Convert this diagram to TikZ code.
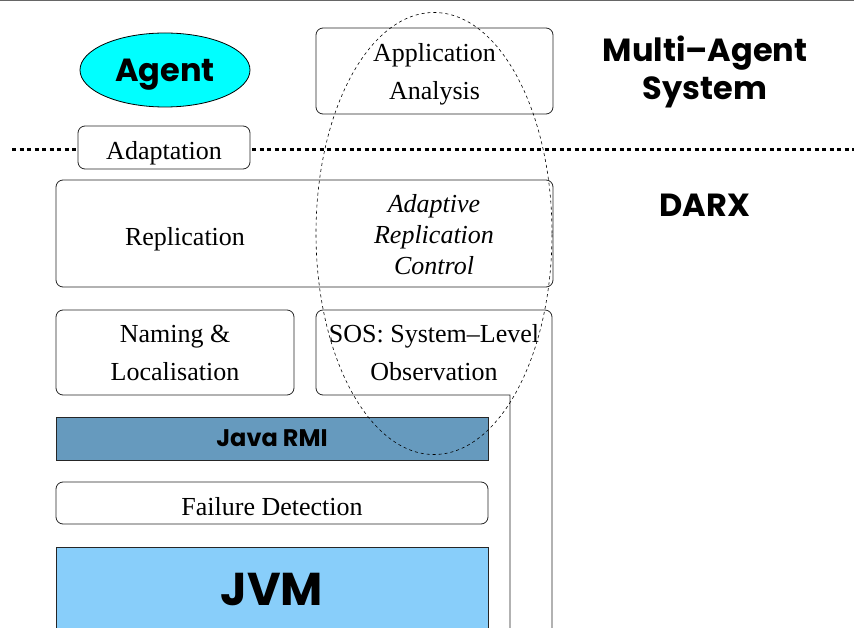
\documentclass[tikz,border=0pt]{standalone}
\usepackage{fontspec}
\setmainfont{Liberation Serif}
\newfontfamily\gfont{Poppins}[Ligatures=TeX]
\usetikzlibrary{shapes.geometric}
\definecolor{rmiblue}{RGB}{102,154,190}
\definecolor{jvmblue}{RGB}{136,206,250}
\definecolor{agentcyan}{RGB}{0,255,255}
\tikzset{
  box/.style={draw=black!85, line width=0.8pt, rounded corners=7pt, fill=white, inner sep=0pt, align=center},
  flatbox/.style={draw=black!85, line width=0.8pt, inner sep=0pt, align=center},
  serif/.style={font=\fontsize{26}{38}\selectfont},
  heavy/.style 2 args={font=\gfont\bfseries\fontsize{#1}{#2}\selectfont},
}
\begin{document}
\begin{tikzpicture}[x=1pt,y=-1pt]
\useasboundingbox (0,0) rectangle (854,628);
\clip (0,0) rectangle (854,628);
\fill[white] (0,0) rectangle (854,628);
\draw[black!60, line width=1.5pt] (0,0.75) -- (854,0.75);
% dotted separator
\coordinate (sepL) at (12,150);
\coordinate (sepR) at (854,150);
\draw[line width=3pt, dash pattern=on 4pt off 3.5pt] (sepL) -- (sepR);
% agent
\node[ellipse, draw=black, line width=0.8pt, fill=agentcyan, minimum width=170pt, minimum height=74pt, inner sep=0pt, text depth=0pt, heavy={32}{36}] (agent) at (165,70) {Agent};
% application analysis
\node[box, minimum width=237pt, minimum height=86pt] (app) at (434.5,71) {};
\node[serif, align=center, inner sep=0pt] (apptxt) at (434.5,74.5) {Application\\Analysis};
\node[align=center, heavy={32}{38}, inner sep=0pt] (mas) at (705,72) {Multi–Agent\\System};
% adaptation
\node[box, minimum width=172pt, minimum height=43pt] (adapt) at (164,147.5) {};
\node[serif, inner sep=0pt, text depth=0pt] (adapttxt) at (164,150) {Adaptation};
% replication
\node[box, minimum width=497pt, minimum height=107pt] (repl) at (304.5,233.5) {};
\node[serif, text depth=0pt] (repltxt) at (185,236) {Replication};
\node[align=center, inner sep=0pt, font=\itshape\fontsize{26}{31}\selectfont] (arc) at (434,235) {Adaptive\\Replication\\Control};
\node[heavy={32}{36}, inner sep=0pt, text depth=0pt] (darx) at (705,205) {DARX};
% naming
\node[box, minimum width=238pt, minimum height=85pt] (naming) at (175,352.5) {};
\node[serif, align=center, inner sep=0pt] (namingtxt) at (175,352.5) {Naming \&\\Localisation};
% SOS L-shape
\coordinate (sosA) at (510,630);
\coordinate (sosB) at (510,395);
\coordinate (sosC) at (316,395);
\coordinate (sosD) at (316,310);
\coordinate (sosE) at (552,310);
\coordinate (sosF) at (552,630);
\draw[black!85, line width=0.8pt] (sosA) -- (sosB) [rounded corners=7pt] -- (sosC) -- (sosD) -- (sosE) -- (sosF);
\node[serif, align=center, inner sep=0pt] (sos) at (434,352.5) {SOS: System–Level\\Observation};
% Java RMI
\node[flatbox, fill=rmiblue, minimum width=432pt, minimum height=43pt, text depth=0pt, heavy={24}{28}] (rmi) at (272,438.5) {Java RMI};
% failure detection
\node[box, minimum width=432pt, minimum height=42pt] (fd) at (272,503) {};
\node[serif, inner sep=0pt, text depth=0pt] (fdtxt) at (272,506) {Failure Detection};
% JVM
\draw[black!85, line width=0.8pt, fill=jvmblue] (56,547) rectangle (488,640);
\node[heavy={46}{52}, inner sep=0pt] (jvm) at (272,590) {JVM};
% observation ellipse
\node[ellipse, draw=black, line width=0.6pt, dash pattern=on 3pt off 3pt, minimum width=236pt, minimum height=442pt, inner sep=0pt] (obs) at (434,233.5) {};
\end{tikzpicture}
\end{document}
